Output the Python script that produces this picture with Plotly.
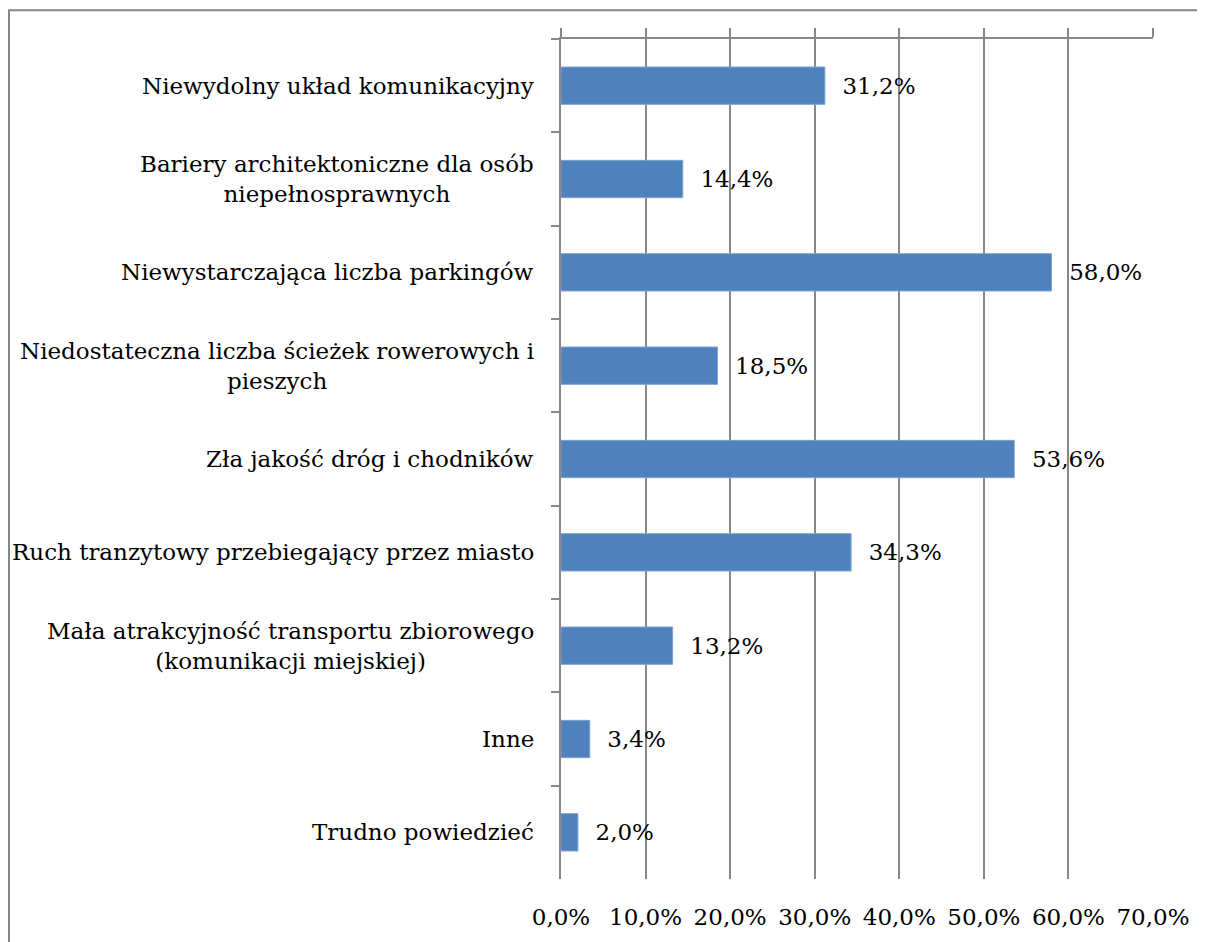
import plotly.graph_objects as go

categories = [
    "Niewydolny układ komunikacyjny",
    "Bariery architektoniczne dla osób<br>niepełnosprawnych",
    "Niewystarczająca liczba parkingów",
    "Niedostateczna liczba ścieżek rowerowych i<br>pieszych",
    "Zła jakość dróg i chodników",
    "Ruch tranzytowy przebiegający przez miasto",
    "Mała atrakcyjność transportu zbiorowego<br>(komunikacji miejskiej)",
    "Inne",
    "Trudno powiedzieć",
]
values = [31.2, 14.4, 58.0, 18.5, 53.6, 34.3, 13.2, 3.4, 2.0]
value_labels = ["31,2%", "14,4%", "58,0%", "18,5%", "53,6%", "34,3%", "13,2%", "3,4%", "2,0%"]
tick_vals = [0, 10, 20, 30, 40, 50, 60, 70]
tick_text = ["0,0%", "10,0%", "20,0%", "30,0%", "40,0%", "50,0%", "60,0%", "70,0%"]

FONT = "DejaVu Serif"
FS = 23
GRAY = "#878787"
W, H = 1197, 934
L, R, T, B = 553, 52, 31, 58
pw, ph = W - L - R, H - T - B

fig = go.Figure()
fig.add_trace(go.Bar(
    x=values, y=categories, orientation="h",
    marker=dict(color="#4F81BD", line=dict(color="#7EA3D1", width=1)),
    text=["  " + t for t in value_labels], textposition="outside",
    textfont=dict(family=FONT, size=FS, color="black"),
    constraintext="none", cliponaxis=False, width=0.4,
    hoverinfo="skip", showlegend=False,
))
fig.add_trace(go.Scatter(
    x=[0], y=[categories[0]], xaxis="x2", mode="markers",
    marker=dict(opacity=0), hoverinfo="skip", showlegend=False,
))

for c in categories:
    fig.add_annotation(
        x=-25 / pw, xref="paper", y=c, yref="y",
        text=c, showarrow=False, xanchor="right", yanchor="middle",
        align="center", font=dict(family=FONT, size=FS, color="black"),
    )

fig.add_shape(type="rect", xref="paper", yref="paper",
              x0=(1 - L) / pw, x1=(W + 20 - L) / pw,
              y0=-(H + 20 - (H - B)) / ph, y1=(H - B - 2) / ph,
              line=dict(color=GRAY, width=2), layer="below")

fig.update_layout(
    width=W, height=H,
    margin=dict(l=L, r=R, t=T, b=B, pad=0),
    paper_bgcolor="white", plot_bgcolor="white",
    bargap=0.6,
    font=dict(family=FONT, size=FS, color="black"),
    xaxis=dict(range=[0, 70], tickvals=tick_vals, ticktext=tick_text,
               showgrid=True, gridcolor=GRAY, gridwidth=1.5,
               showline=False, ticks="", zeroline=False,
               tickfont=dict(family=FONT, size=FS, color="black"),
               ticklabelstandoff=22),
    xaxis2=dict(range=[0, 70], overlaying="x", matches="x", side="top",
                tickvals=tick_vals, showticklabels=False, showgrid=False,
                showline=True, linecolor=GRAY, linewidth=1.5,
                ticks="outside", ticklen=9, tickcolor=GRAY, tickwidth=1.5,
                zeroline=False),
    yaxis=dict(autorange="reversed", showticklabels=False,
               showline=True, linecolor=GRAY, linewidth=1.5,
               ticks="outside", ticklen=8, tickcolor=GRAY, tickwidth=1.5,
               tickson="boundaries", showgrid=False, zeroline=False),
)

fig.write_html("out.html")
